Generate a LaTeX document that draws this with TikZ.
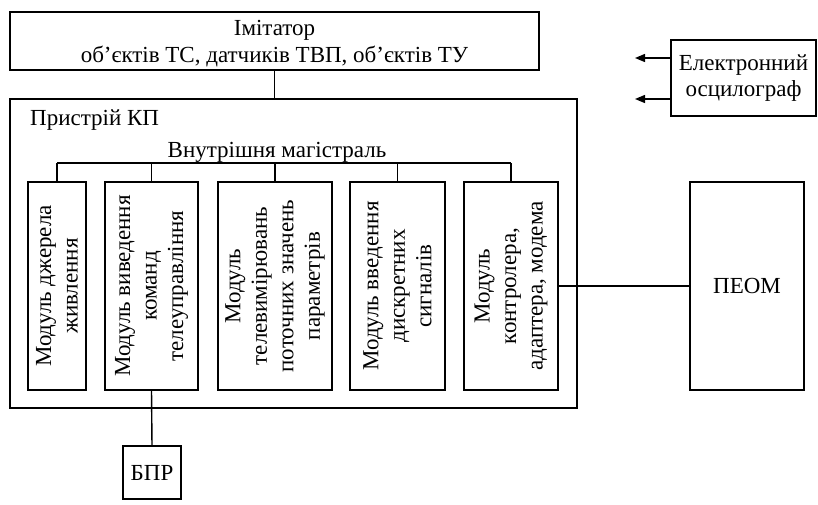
\documentclass[tikz,border=0pt]{standalone}
\usepackage{fontspec}
\setmainfont{Liberation Serif}
\usetikzlibrary{arrows.meta}
\begin{document}
\begin{tikzpicture}[x=1pt,y=-1pt,
  font=\fontsize{23}{26.5}\selectfont,
  thickbox/.style={draw, line width=2.2pt, inner sep=0pt, outer sep=0pt},
  thinbox/.style={draw, line width=1.7pt, inner sep=0pt, outer sep=0pt},
  modbox/.style={draw, line width=2.2pt, inner sep=0pt, outer sep=0pt, minimum height=208pt},
  modtext/.style={rotate=90, align=center, inner sep=0pt},
  plain/.style={inner sep=0pt, align=center},
  conn/.style={line width=1.4pt},
  arr/.style={line width=1.4pt, -{Triangle[length=10pt,width=8pt]}}
]
\useasboundingbox (0,0) rectangle (818,504);

% Imitator
\node[thickbox, minimum width=529pt, minimum height=58pt] (imit) at (274.5,41) {};
\node[plain] (imittext) at (274.5,43.5)
  {Імітатор\\об’єктів ТС, датчиків ТВП, об’єктів ТУ};

% Outer device box
\node[thinbox, minimum width=567pt, minimum height=309pt] (kp) at (293.5,253.5) {};
\node[anchor=west, inner sep=0pt] (kplabel) at (30,120) {Пристрій КП};
\node[plain] (buslabel) at (277,152) {Внутрішня магістраль};

% Modules
\node[modbox, minimum width=58pt] (m1) at (57,286) {};
\node[modbox, minimum width=93pt] (m2) at (151.5,286) {};
\node[modbox, minimum width=114pt] (m3) at (275,286) {};
\node[modbox, minimum width=95pt] (m4) at (397.5,286) {};
\node[modbox, minimum width=94pt] (m5) at (511,286) {};

\node[modtext] (t1) at (m1) {Модуль джерела\\живлення};
\node[modtext] (t2) at (m2) {Модуль виведення\\команд\\телеуправління};
\node[modtext] (t3) at (m3) {Модуль\\телевимірювань\\поточних значень\\параметрів};
\node[modtext] (t4) at (m4) {Модуль введення\\дискретних\\сигналів};
\node[modtext] (t5) at (m5) {Модуль\\контролера,\\адаптера, модема};

% PEOM, BPR, oscillograph
\node[thinbox, minimum width=114pt, minimum height=208pt] (peom) at (747,286) {ПЕОМ};
\node[thinbox, minimum width=58pt, minimum height=53pt] (bpr) at (152,472.5) {БПР};
\node[thickbox, minimum width=145pt, minimum height=76pt, align=center] (osc) at (743.5,78)
  {Електронний\\осцилограф};

% Bus
\coordinate (busL) at (57,163);
\coordinate (busR) at (511,163);
\draw[conn] (busL) -- (busR);
\foreach \m in {m1,m2,m3,m4,m5} {
  \draw[conn] (\m.north) -- (\m.north |- busL);
}

% Connectors
\draw[conn] (imit.south) -- (imit.south |- kp.north);
\draw[conn] (m5.east) -- (peom.west);
\draw[conn] (m2.south) -- (bpr.north);

% Oscillograph outputs
\coordinate (o1) at (635,58);
\coordinate (o2) at (635,99);
\draw[arr] (osc.west |- o1) -- (o1);
\draw[arr] (osc.west |- o2) -- (o2);
\end{tikzpicture}
\end{document}
